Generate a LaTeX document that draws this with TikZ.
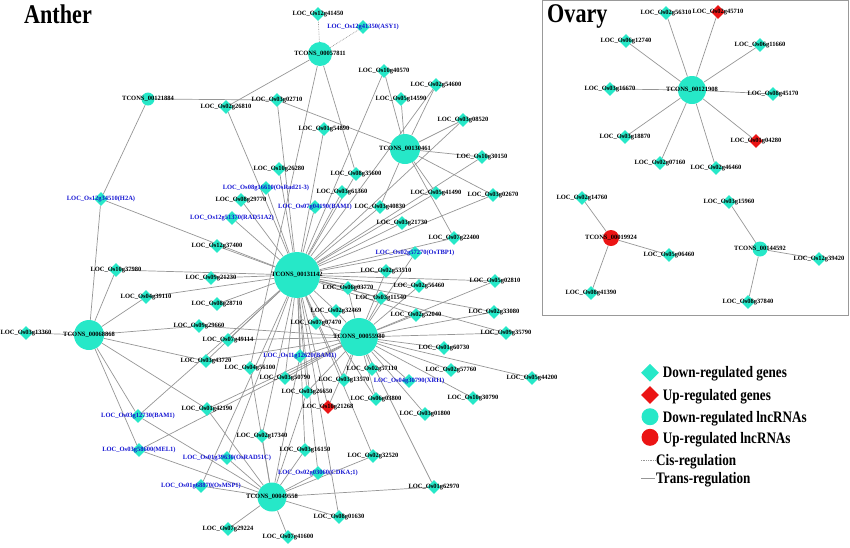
\documentclass[tikz,border=0pt]{standalone}
\usepackage{fontspec}
\setmainfont{Liberation Serif}
\newfontfamily\headfont[FakeStretch=0.82]{Liberation Serif}
\usetikzlibrary{shapes.geometric,backgrounds}

\definecolor{downc}{RGB}{38,232,200}
\definecolor{upc}{RGB}{235,20,20}
\definecolor{bluetxt}{RGB}{20,20,210}
\definecolor{edgec}{RGB}{150,150,150}

\tikzset{
  gene/.style={diamond, fill=downc, inner sep=0pt, minimum size=14pt},
  upgene/.style={gene, fill=upc},
  lnc/.style={circle, fill=downc, inner sep=0pt},
  uplnc/.style={lnc, fill=upc},
  lbl/.style={font=\fontsize{6.5}{7}\selectfont\bfseries, text=black, inner sep=0pt},
  bluelbl/.style={lbl, text=bluetxt},
  trans/.style={draw=edgec, line width=0.7pt},
  cis/.style={trans, densely dotted},
  keytext/.style={font=\headfont\bfseries\fontsize{16}{18}\selectfont, anchor=base west, inner sep=0pt},
  headline/.style={font=\headfont\bfseries\fontsize{27}{30}\selectfont, anchor=base west, inner sep=0pt},
}

\begin{document}
\begin{tikzpicture}[x=1pt, y=-1pt]
  \useasboundingbox (0,0) rectangle (850,547); % Set page size

  \node[headline] (anther) at (24,23.3) {Anther};
  \node[headline] (ovary) at (547,22.7) {Ovary};
  \draw[draw=gray!80, line width=0.8pt] (542.5,0.5) rectangle (848,315);

  % lncRNAs
  \node[lnc, minimum size=46pt, label={[lbl]center:TCONS\_00131142}] (t131142) at (297,275) {};
  \node[lnc, minimum size=30pt, label={[lbl]center:TCONS\_00130461}] (t130461) at (405,149) {};
  \node[lnc, minimum size=24pt, label={[lbl]center:TCONS\_00057811}] (t057811) at (320,54) {};
  \node[lnc, minimum size=13pt, label={[lbl]center:TCONS\_00121884}] (t121884) at (148,99) {};
  \node[lnc, minimum size=30pt, label={[lbl]center:TCONS\_00068868}] (t068868) at (89,335) {};
  \node[lnc, minimum size=38pt, label={[lbl]center:TCONS\_00055980}] (t055980) at (359,337) {};
  \node[lnc, minimum size=29pt, label={[lbl]center:TCONS\_00049558}] (t049558) at (272,497) {};
  \node[lnc, minimum size=28pt, label={[lbl]center:TCONS\_00121908}] (t121908) at (692,90) {};
  \node[uplnc, minimum size=16pt, label={[lbl]center:TCONS\_00019924}] (t019924) at (611,238) {};
  \node[lnc, minimum size=15pt, label={[lbl]center:TCONS\_00144592}] (t144592) at (760,249) {};

  % genes
  \foreach \n/\x/\y in {12g41450/318/14, 10g40570/384/71, 02g54600/436/85, 05g14590/401/99,
      03g02710/277/100, 02g26810/226/107, 03g08520/463/120, 01g54890/324/129, 10g30150/482/157,
      10g26280/279/169, 08g35600/356/174, 03g61360/342/192, 05g41490/436/193, 03g02670/493/195,
      08g29770/241/200, 03g40830/380/207, 03g21730/402/223, 07g22400/454/238, 12g37400/217/246,
      10g37980/116/270, 02g53510/386/271, 09g21230/211/278, 05g02810/495/281, 02g56460/419/286,
      06g03770/348/288, 04g39110/146/297, 03g11540/381/298, 08g28710/217/304, 02g32469/336/311,
      02g33080/494/312, 02g52040/416/315, 07g07470/316/323, 09g29660/199/326, 09g35790/506/333,
      03g13360/26/333, 07g49114/228/340, 01g60730/444/348, 03g43720/206/361, 04g56100/250/368,
      02g57110/372/369, 02g57760/451/370, 03g50790/285/378, 05g44200/532/378, 03g13570/344/380,
      03g26650/307/392, 10g30790/473/398, 06g03800/376/399, 01g42190/207/409, 03g01800/425/414,
      02g17340/262/436, 03g16150/305/450, 02g32520/373/456, 01g62970/434/487, 08g01630/339/517,
      07g29224/228/529, 07g41600/288/537,
      02g56310/666/13, 06g12740/626/41, 06g11660/760/45, 03g16670/610/89, 08g45170/773/94,
      03g18870/625/137, 02g07160/660/163, 02g46460/716/168, 02g14760/582/198, 05g06460/669/255,
      08g41390/591/293, 03g15960/729/202, 12g39420/819/259, 08g37840/748/302}
    \node[gene, label={[lbl]center:LOC\_Os\n}] (\n) at (\x,\y) {};

  \foreach \n/\x/\y/\s in {12g41350/363/27/(ASY1), 08g16610/266/188/(OsRad21-3),
      07g04190/315/207/(BAM1), 12g51370/232/218/(RAD51A2), 02g57270/415/253/(OsTBP1),
      12g34510/101/199/(H2A), 11g12620/300/356/(BAM1), 04g30790/409/381/(XRI1),
      03g12730/138/416/(BAM1), 03g58600/139/450/(MEL1), 01g39630/227/458/(OsRAD51C),
      02g03060/318/473/(CDKA;1), 01g68870/201/486/(OsMSP1)}
    \node[gene, label={[bluelbl]center:LOC\_Os\n\s}] (\n) at (\x,\y) {};

  \foreach \n/\x/\y in {10g21268/328/407, 02g45710/718/12, 01g04280/756/141}
    \node[upgene, label={[lbl]center:LOC\_Os\n}] (\n) at (\x,\y) {};

  \begin{pgfonlayer}{background}
    \foreach \g in {12g41450,12g41350} \draw[cis] (t057811) -- (\g);
    \foreach \g in {02g26810,04g56100,08g35600} \draw[trans] (t057811) -- (\g);
    \foreach \g in {03g02710,12g34510} \draw[trans] (t121884) -- (\g);
    \foreach \g in {03g02710,10g40570,05g14590,02g54600,03g08520,10g30150,05g41490,03g02670,
        07g22400,03g40830}
      \draw[trans] (t130461) -- (\g);
    \foreach \g in {03g02710,02g26810,10g26280,08g16610,08g29770,12g51370,12g37400,12g34510,
        10g37980,09g21230,04g39110,08g28710,01g54890,10g40570,02g54600,03g08520,08g35600,
        03g61360,07g04190,03g40830,03g21730,05g41490,03g02670,07g22400,10g30150,02g57270,
        02g53510,05g02810,02g56460,06g03770,03g11540,02g32469,07g07470,02g52040,02g33080,
        09g35790,07g49114,03g43720,11g12620,03g50790,03g26650,02g17340,03g13570,03g16150,
        02g32520,08g01630,03g12730,01g39630,01g68870,02g03060,06g03800,10g21268}
      \draw[trans] (t131142) -- (\g);
    \foreach \g in {03g13360,12g34510,10g37980,04g39110,09g29660,03g43720,01g42190,03g12730,
        03g58600}
      \draw[trans] (t068868) -- (\g);
    \foreach \g in {09g29660,03g43720,07g49114,01g42190,03g58600,03g11540,02g32469,07g07470,
        02g52040,02g33080,09g35790,01g60730,02g57760,05g44200,10g30790,03g01800,02g57110,
        04g30790,03g13570,06g03800,10g21268,03g26650,03g50790,11g12620,05g02810,02g53510,
        02g56460,06g03770,01g62970,02g57270}
      \draw[trans] (t055980) -- (\g);
    \foreach \g in {03g12730,03g58600,01g42190,01g68870,01g39630,02g17340,07g29224,07g41600,
        08g01630,01g62970,02g03060,03g16150,02g32520,11g12620,03g26650,04g56100}
      \draw[trans] (t049558) -- (\g);
    \foreach \g in {02g56310,02g45710,06g12740,06g11660,03g16670,08g45170,03g18870,01g04280,
        02g07160,02g46460}
      \draw[trans] (t121908) -- (\g);
    \foreach \g in {02g14760,05g06460,08g41390} \draw[trans] (t019924) -- (\g);
    \foreach \g in {03g15960,12g39420,08g37840} \draw[trans] (t144592) -- (\g);
  \end{pgfonlayer}

  % legend
  \node[gene, minimum size=18pt] (kdowng) at (650,372.7) {};
  \node[upgene, minimum size=18pt] (kupg) at (650,395) {};
  \node[lnc, minimum size=17pt] (kdownl) at (650,416.7) {};
  \node[uplnc, minimum size=17pt] (kupl) at (650,437.3) {};
  \coordinate (kcisa) at (641,460.5);
  \coordinate (kcisb) at (655,460.5);
  \coordinate (ktransa) at (641,478.3);
  \coordinate (ktransb) at (655,478.3);
  \draw[cis] (kcisa) -- (kcisb);
  \draw[trans] (ktransa) -- (ktransb);
  \node[keytext] at (662.7,377.3) {Down-regulated genes};
  \node[keytext] at (662.7,400) {Up-regulated genes};
  \node[keytext] at (662.7,422.3) {Down-regulated lncRNAs};
  \node[keytext] at (662.7,443.3) {Up-regulated lncRNAs};
  \node[keytext] at (656,465.7) {Cis-regulation};
  \node[keytext] at (656,483.3) {Trans-regulation};
\end{tikzpicture}
\end{document}
